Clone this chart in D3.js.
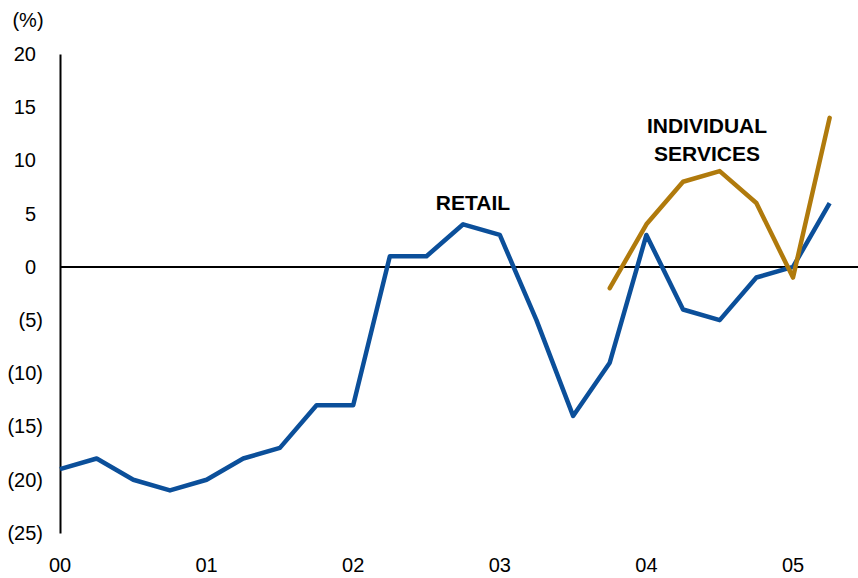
<!DOCTYPE html>
<html><head><meta charset="utf-8">
<script src="https://cdn.jsdelivr.net/npm/d3@7"></script>
<style>html,body{margin:0;padding:0;background:#fff;}svg{display:block;font-family:"Liberation Sans",Arial,sans-serif;}</style>
</head><body>
<svg id="c" width="858" height="578"></svg>
<script>
// Quarterly data, 2000Q1 .. 2005Q2 (index 0 = 2000Q1)
const quarters = d3.range(22);
const retail = [-19,-18,-20,-21,-20,-18,-17,-13,-13,1,1,4,3,-5,-14,-9,3,-4,-5,-1,0,6];
const servicesStart = 15; // 2003Q4
const services = [-2,4,8,9,6,-1,14];
const yTicks = [20,15,10,5,0,-5,-10,-15,-20,-25];
const xYearLabels = ["00","01","02","03","04","05"];

const svg = d3.select("#c");
const x = d3.scaleLinear().domain([0,20]).range([60,793]);
const y = d3.scaleLinear().domain([-25,20]).range([533,54]);

// Y axis
const yAxis = d3.axisLeft(y).tickValues(yTicks).tickSize(0).tickPadding(0)
  .tickFormat(d => d < 0 ? "(" + Math.abs(d) + ")" : String(d));
const gy = svg.append("g").attr("transform","translate(60,0)").call(yAxis);
gy.select(".domain").attr("stroke","#000").attr("stroke-width",2);
gy.selectAll("text").attr("font-size",20).attr("fill","#000")
  .attr("font-family","Liberation Sans, Arial, sans-serif")
  .attr("x", d => d < 0 ? -17 : -24);

// X axis labels
const gx = svg.append("g");
gx.selectAll("text").data(xYearLabels).join("text")
  .attr("x",(d,i)=>x(i*4)).attr("y",572).attr("text-anchor","middle")
  .attr("font-size",20).attr("fill","#000").text(d=>d);

// Zero line
svg.append("line").attr("x1",60).attr("x2",858).attr("y1",y(0)).attr("y2",y(0))
  .attr("stroke","#000").attr("stroke-width",2);

// Units
svg.append("text").attr("x",28).attr("y",27).attr("text-anchor","middle")
  .attr("font-size",20).attr("fill","#000").text("(%)");

const line = d3.line().x(d=>x(d[0])).y(d=>y(d[1]));
svg.append("path").datum(retail.map((v,i)=>[quarters[i],v]))
  .attr("d",line).attr("fill","none").attr("stroke","#0b4f9a").attr("stroke-width",4.5)
  .attr("stroke-linejoin","round");
svg.append("path").datum(services.map((v,i)=>[servicesStart+i,v]))
  .attr("d",line).attr("fill","none").attr("stroke","#b07a0c").attr("stroke-width",4.5)
  .attr("stroke-linejoin","round").attr("stroke-linecap","round");

// Labels
const lab = (t,xx,yy)=>svg.append("text").attr("x",xx).attr("y",yy).attr("text-anchor","middle")
  .attr("font-size",21).attr("font-weight","bold").attr("fill","#000").text(t);
lab("RETAIL",473,210);
lab("INDIVIDUAL",707,133);
lab("SERVICES",707,161);
</script>
</body></html>
